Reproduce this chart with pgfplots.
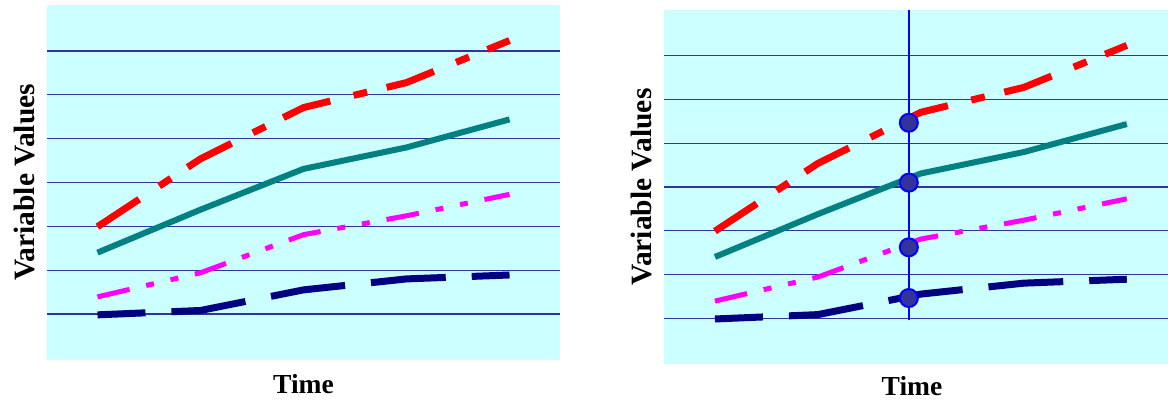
\documentclass[border=0pt]{standalone}
\usepackage{fontspec}
\setmainfont{Liberation Serif}
\usepackage{pgfplots}
\pgfplotsset{compat=1.18}
\definecolor{cyanbg}{RGB}{204,255,255}
\definecolor{gridblue}{RGB}{51,51,153}
\definecolor{tealc}{RGB}{0,128,128}
\definecolor{navyc}{RGB}{0,0,128}
\definecolor{magc}{RGB}{255,0,255}
\definecolor{redc}{RGB}{255,0,0}
\definecolor{bluec}{RGB}{0,0,255}
\definecolor{dotfill}{RGB}{51,51,153}
\pgfplotsset{
  panel/.style={
    anchor=south west, scale only axis,
    ymin=-0.05, ymax=8.05,
    axis line style={draw=none},
    xtick=\empty, ytick={1,2,3,4,5,6,7}, yticklabels={},
    major tick length=0pt,
    ymajorgrids, grid style={gridblue, line width=1.2pt},
    axis background/.style={fill=cyanbg},
    xlabel={Time}, ylabel={Variable Values},
    xlabel style={font=\bfseries\fontsize{27.5}{30}\selectfont, at={(axis description cs:0.5,0)}, anchor=center, yshift=-24pt},
    ylabel style={font=\bfseries\fontsize{29.5}{32}\selectfont, at={(axis description cs:0,0.5)}, anchor=center, yshift=23pt},
  },
  redl/.style={redc, line width=7pt, dash pattern=on 50pt off 24pt on 14pt off 20pt},
  teall/.style={tealc, line width=6pt},
  magl/.style={magc, line width=5pt, dash pattern=on 33pt off 17pt on 8pt off 17pt on 8pt off 17pt},
  navyl/.style={navyc, line width=7pt, dash pattern=on 75pt off 26pt, dash phase=27pt},
}
\begin{document}
\begin{tikzpicture}[x=1pt,y=1pt]
\path[use as bounding box] (0,0) rectangle (1168,402);
% left panel
\begin{axis}[panel, at={(47pt,42pt)}, width=513pt, height=355pt, xmin=-0.49, xmax=4.49]
\addplot[redl] coordinates {(0,2.99) (1,4.54) (2,5.71) (3,6.28) (4,7.24)};
\addplot[teall] coordinates {(0,2.40) (1,3.38) (2,4.31) (3,4.80) (4,5.44)};
\addplot[magl] coordinates {(0,1.39) (1,1.94) (2,2.81) (3,3.24) (4,3.73)};
\addplot[navyl] coordinates {(0,0.98) (1,1.08) (2,1.55) (3,1.80) (4,1.89)};
\end{axis}
% right panel
\begin{axis}[panel, at={(664pt,38pt)}, width=504pt, height=354pt, xmin=-0.495, xmax=4.40, xlabel style={yshift=2pt, xshift=-4pt}]
\addplot[redl] coordinates {(0,2.99) (1,4.54) (2,5.71) (3,6.28) (4,7.24)};
\addplot[teall] coordinates {(0,2.40) (1,3.38) (2,4.31) (3,4.80) (4,5.44)};
\addplot[magl] coordinates {(0,1.39) (1,1.94) (2,2.81) (3,3.24) (4,3.73)};
\addplot[navyl] coordinates {(0,0.98) (1,1.08) (2,1.55) (3,1.80) (4,1.89)};
\addplot[bluec, line width=2pt] coordinates {(1.883,0.95) (1.883,8.05)};
\addplot[only marks, mark=*, mark size=9pt, mark options={fill=dotfill, draw=bluec, line width=2pt}] coordinates {(1.883,5.47) (1.883,4.10) (1.883,2.62) (1.883,1.46)};
\end{axis}
\end{tikzpicture}
\end{document}
